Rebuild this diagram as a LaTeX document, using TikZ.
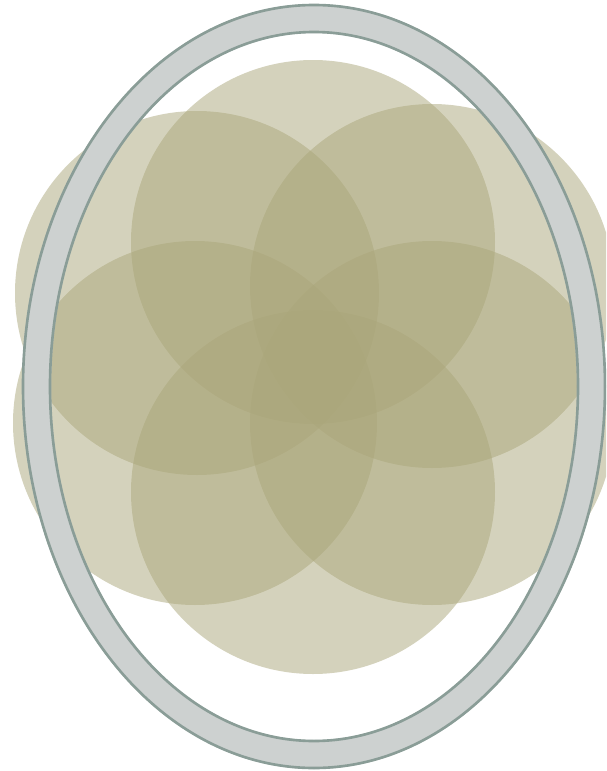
\documentclass[tikz,border=0pt]{standalone}
\usepackage{tikz}
\definecolor{petal}{RGB}{170,166,122}
\definecolor{ringfill}{RGB}{205,209,208}
\definecolor{ringline}{RGB}{138,157,151}

\begin{document}
\begin{tikzpicture}[
  x=0.02cm,y=-0.02cm,
  petal/.style={fill=petal,fill opacity=0.5,draw=none},
  ring/.style={fill=ringfill,even odd rule},
  rim/.style={draw=ringline,line width=1.5pt}
]
  \useasboundingbox (0,0) rectangle (606,771);
  \clip (0,0) rectangle (606,771);

  % six overlapping petals
  \foreach \cx/\cy in {313/242, 313/492, 197/293, 432/286, 195/423, 432/423}
    \fill[petal] (\cx,\cy) circle[radius=182];

  % elliptic ring on top
  \fill[ring] (314,386.5) ellipse[x radius=292,y radius=382.5]
                (314,386.5) ellipse[x radius=263,y radius=353.5];
  \draw[rim] (314,386.5) ellipse[x radius=291,y radius=381.5];
  \draw[rim] (314,386.5) ellipse[x radius=264,y radius=354.5];
\end{tikzpicture}
\end{document}
